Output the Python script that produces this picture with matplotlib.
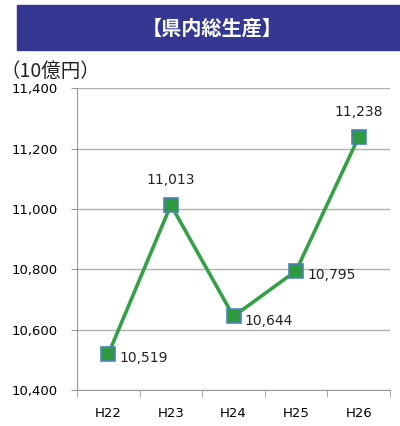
import matplotlib
matplotlib.use('Agg')
from matplotlib import pyplot as plt
from matplotlib.patches import Rectangle

plt.rcParams['font.family'] = ['Noto Sans CJK JP', 'DejaVu Sans']

years = ['H22', 'H23', 'H24', 'H25', 'H26']
gdp = [10519, 11013, 10644, 10795, 11238]
label_pos = ['right', 'above', 'right', 'right', 'above']

fig = plt.figure(figsize=(4.0, 4.26), dpi=100)

# header banner
fig.patches.append(Rectangle((0.0425, 0.8826), 0.9575, 0.1056,
                             transform=fig.transFigure, color='#343893', zorder=0))
fig.text(0.53, 0.935, '【県内総生産】', color='white', fontsize=14.5,
         fontweight='bold', ha='center', va='center')
fig.text(0.0, 0.832, '（10億円）', fontsize=14, ha='left', va='center', color='#222222')

ax = fig.add_axes([0.1925, 0.0845, 0.7825, 0.7085])
x = list(range(len(years)))
ax.plot(x, gdp, color='#35a146', lw=2.6, zorder=3)
ax.plot(x, gdp, ls='none', marker='s', ms=10, mfc='#2e9a3f', mec='#4f81bd',
        mew=1.2, zorder=4)

for i, v in enumerate(gdp):
    txt = f'{v:,}'
    if label_pos[i] == 'above':
        ax.annotate(txt, (i, v), xytext=(0, 13), textcoords='offset points',
                    ha='center', va='bottom', fontsize=10, color='#222222',
                    family='DejaVu Sans')
    else:
        ax.annotate(txt, (i, v), xytext=(8, -3), textcoords='offset points',
                    ha='left', va='center', fontsize=10, color='#222222',
                    family='DejaVu Sans')

ax.set_xlim(-0.5, 4.5)
ax.set_ylim(10400, 11400)
ax.set_yticks(range(10400, 11401, 200))
ax.set_yticklabels([f'{t:,}' for t in range(10400, 11401, 200)],
                   fontsize=9.5, family='DejaVu Sans')
ax.set_xticks(x)
ax.set_xticklabels(years, fontsize=9.5, family='DejaVu Sans')
ax.set_xticks([i - 0.5 for i in range(len(years) + 1)], minor=True)
ax.tick_params(axis='x', which='major', length=0, pad=12)
ax.tick_params(axis='x', which='minor', length=5, color='#999999')
ax.tick_params(axis='y', length=4, color='#999999', pad=10)
ax.grid(axis='y', color='#b0b0b0', lw=1)
ax.set_axisbelow(True)
for s in ['top', 'right']:
    ax.spines[s].set_visible(False)
ax.spines['left'].set_color('#999999')
ax.spines['bottom'].set_color('#999999')

fig.savefig('out.png', dpi=100)
